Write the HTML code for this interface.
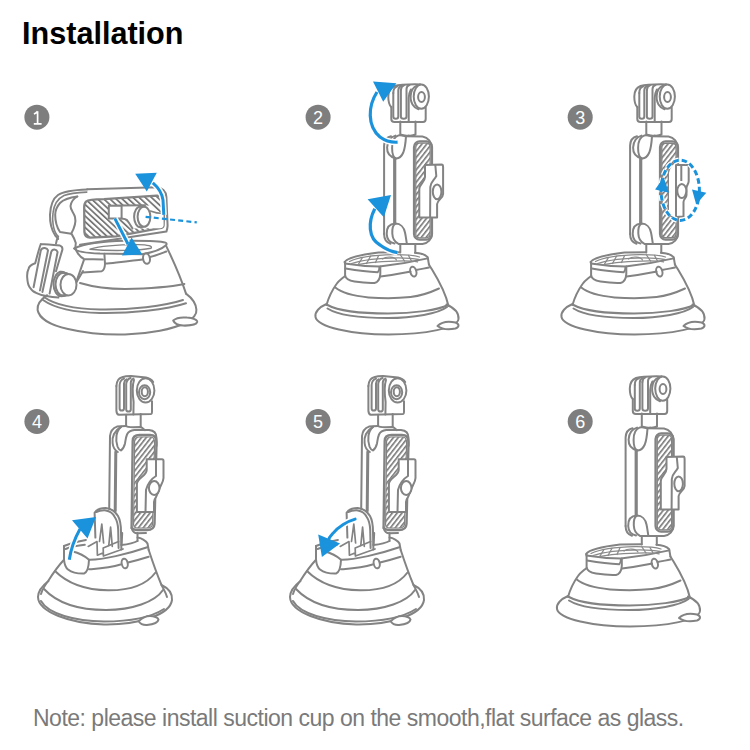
<!DOCTYPE html>
<html><head><meta charset="utf-8">
<style>
html,body{margin:0;padding:0;background:#fff;}
body{width:750px;height:750px;position:relative;overflow:hidden;}
#title{position:absolute;left:22px;top:14.5px;font-family:"Liberation Sans",sans-serif;font-weight:bold;font-size:30.6px;color:#000;line-height:36px;white-space:nowrap;}
#note{position:absolute;left:33px;top:705px;font-family:"Liberation Sans",sans-serif;font-size:23px;color:#7a7a7a;line-height:26px;white-space:nowrap;letter-spacing:-0.5px;}
svg{position:absolute;left:0;top:0;}
</style></head><body>
<div id="title">Installation</div>
<svg width="750" height="750" viewBox="0 0 750 750">
<defs>
<pattern id="hat" patternUnits="userSpaceOnUse" width="3.8" height="20" patternTransform="rotate(38)"><rect x="0" y="0" width="1.6" height="20" fill="#777"/></pattern>
<pattern id="hat1" patternUnits="userSpaceOnUse" width="4.2" height="20" patternTransform="rotate(-47)"><rect x="0" y="0" width="1.8" height="20" fill="#777"/></pattern>

<!-- ===== Mount A (figure 6 coordinates) ===== -->
<g id="mA" fill="none" stroke="#838383" stroke-width="2" stroke-linejoin="round" stroke-linecap="round">
  <!-- skirt -->
  <path d="M568,596 C561,599 556,604 557,609 C559,619 593,626.5 630,626.5 C667,626.5 699,620 700,611 C700.5,605 696,600 688,596.5"/>
  <path d="M569,597 C580,603 605,605.5 629.4,605.5 C655,605.5 680,602 689.4,597"/>
  <path d="M569,600.5 C580,607.5 605,610 629.4,610 C655,610 680,605.5 688.5,599"/>
  <path d="M679,618 C683,614 690,613 697,614.5 C701,616 701,619 697,620.5 C690,622 683,621 679,618 Z" fill="#fff"/>
  <!-- cone -->
  <path d="M586.5,568 C583,571 580,573 578,576 C573,583 570,590 568,597"/>
  <path d="M670.4,556.4 C676,566 686,580 690,598"/>
  <path d="M576.8,579.6 C582,584 595,588 610,589.4 C625,590.5 640,590.3 652,589 C665,587.5 673,584 680.5,580.5"/>
  <!-- platform -->
  <path d="M586,554 C590,549 604,546.5 620,544.6 L641.6,544.2 M656.4,544.8 C660,545 666,546 669.2,549.2 L670.4,556.4"/>
  <path d="M586.4,555.6 C598,557.5 612,558.5 621,558.6 C640,556.5 658,553 669.2,550.4"/>
  <path d="M622,568.4 C636,567 645,565 652,563.6 M657.6,562 C662,561 666,560.5 670.4,559.6"/>
  <ellipse cx="654.8" cy="563.6" rx="3" ry="5" transform="rotate(-15 654.8 563.6)"/>
  <!-- drawer -->
  <path d="M586.6,554 L586.6,567 C587,571 590,572.6 596,573.6 C605,575 612,575.2 616,575 C620,574 621.5,571 621.8,566 L621.8,558.6"/>
  <path d="M587.2,560.6 C598,562.5 610,564 619.2,564.2 C620.5,563 621,561 621,559"/>
  <!-- grille -->
  <g stroke-width="1.3" stroke="#8a8a8a">
  <path d="M591,553.5 C600,549 615,547 635,546.6 C648,546.5 656,547.3 661,549"/>
  <path d="M593,555.5 C605,551.5 620,550 640,549.8 C650,549.8 656,550.5 660,551.5"/>
  <path d="M598,557 C610,554 625,553 645,552.8 C652,552.8 656,553.2 659,553.8"/>
  <path d="M604,549.5 L600,556 M612,548.3 L608,555.5 M620,547.8 L617,554.5 M642,547 L646,553 M650,547.5 L653,553"/>
  <path d="M624,551 C628,548 636,548.5 638,552" stroke-width="1.2"/>
  </g>
  <!-- neck bottom -->
  <path d="M641.8,536 L641.8,544.5 M656.8,536 L656.8,544.8"/>
  <!-- arm -->
  <path d="M646.5,428.2 L664,428.6 C669.5,429.5 673.4,434 673.4,440 L673.4,526 C673.4,531 669.5,535.5 664,536 L640.5,536"/>
  <path d="M625.6,526 L625.6,437.5 C625.8,432.5 628.5,429.2 632.5,428.3"/>
  <path d="M625.6,526 C625.6,531 628,534.5 632,535.8"/>
  <!-- top ball -->
  <path d="M647.5,428.4 C647.2,433 646.6,440 644.8,444.5 C643,448.5 640.5,450.6 637.5,450.4 C634.8,449.5 633.6,445 633.6,440 C633.6,434 635.2,429 640,427.4 C642.5,427.2 645,427.6 647.5,428.4"/>
  <path d="M637,427.6 C632,429 629,433 628.6,439.5 C628.4,445 631,449 637.5,450.4"/>
  <!-- inner rod -->
  <path d="M636.2,450.5 L636.2,514.8" stroke-width="3.2"/>
  <!-- bottom ball -->
  <path d="M636.8,515.6 C642,515.4 645.5,519.5 646.5,524.5 C647.5,529 647.8,533 648.4,535.9 M636.8,515.6 C634.5,517 633.6,521 633.8,525.5 C634,530 636,534 640,535.9"/>
  <path d="M636.8,515.6 C631,516 628,520 628.2,526 C628.4,531 631,534.5 636,535.6"/>
  <!-- neck top -->
  <path d="M641.8,413.4 L641.8,426.5 C644,427.5 647,427.8 650,427.6 M657,413.4 L657,426.5 C655,427.5 652,427.8 650,427.6"/>
  <!-- panel outer -->
  <rect x="655.6" y="433.4" width="17.8" height="98.2" rx="5.5" stroke-width="2.4"/>
  <!-- head -->
  <path d="M632.8,399 L632.8,411 C632.8,413 634,414 636,414 L664.5,414 C666.5,414 667.2,413 667.2,411 L667.2,399.5"/>
  <path d="M632.8,399 C630.5,397 629.8,393 629.8,388.5 C629.8,383 632,379.5 636,378 C641,376.6 650,376.2 661.6,376.4"/>
  <path d="M661.6,376.4 C657,377.5 654,380 652.8,384 C651.8,388 652,393 654,396.5 C655.5,399 657.5,400.5 660,401.2"/>
  <path d="M652.4,381.5 C650.8,384.5 650.2,387.5 650.2,390 L650.2,413.6"/>
  <ellipse cx="662.8" cy="388.6" rx="7.6" ry="12.2" fill="#fff"/>
  <ellipse cx="663" cy="389" rx="3.4" ry="5"/>
  <path d="M634.8,385 L634.8,408.5 C634.8,410 635.8,410.8 637.3,410.8 C638.8,410.8 639.8,410 639.8,408.5 L639.8,382 C640,379.8 641,378.6 643,378"/>
  <path d="M634.8,385 C634.8,381 636.5,378.8 639,378.2"/>
  <path d="M642.4,382 L642.4,408.5 C642.4,410 643.5,410.8 645.2,410.8 C646.9,410.8 648,410 648,408.5 L648,381 C648.2,378.8 649.3,377.5 651,377"/>
  <path d="M642.4,382 C642.6,379.5 643.6,378 645.5,377.4"/>
</g>
<g id="clampA" fill="none" stroke="#838383" stroke-width="2" stroke-linejoin="round">
  <path d="M666.5,457 L683,456.6 C684.3,456.6 684.6,457.5 684.6,459 L684.6,486 C684.6,490 679,492 678.6,496 L678.6,509.5 L660.8,509.5 L660.8,481 C660.8,476 666.5,474 666.5,469 Z" fill="#fff"/>
  <path d="M676.8,457 L677.8,468 C676,472 672,474 671.8,479 L671.6,509.5"/>
  <ellipse cx="678.6" cy="483.8" rx="4.3" ry="7.4"/>
</g>
<g id="hatchA">
  <path d="M657.3,438.5 C657.3,436 659,435.2 661,435.2 L668,435.2 C670.5,435.2 671.6,437 671.6,439.5 L671.6,525.5 C671.6,528 670,529.8 667.5,529.8 L661,529.8 C659,529.8 657.3,528.5 657.3,526 Z" fill="url(#hat)" stroke="#838383" stroke-width="1.2"/>
</g>

<!-- ===== Mount B (figure 4 coordinates) ===== -->
<g id="mB" fill="none" stroke="#838383" stroke-width="2" stroke-linejoin="round" stroke-linecap="round">
  <!-- skirt -->
  <path d="M48.5,581 C42,586 38,591 38,597 C38.5,612 70,623.5 104,624.5 C138,625 170,615 172,600 C172.5,593 168,588 161.5,585"/>
  <path d="M41,601 C48,614 75,621 104,621.5 C130,621.5 150,618 164,609"/>
  <path d="M138.7,621.3 C142,618 146,616 150,616 C154,616 158,617.5 158.5,619.5 C158,622.5 153,624.5 147,625 C143,625.2 140,623.5 138.7,621.3 Z" fill="#fff"/>
  <!-- cone -->
  <path d="M64,559.7 C60,564 55,570 48.5,580.5 C45,585 42.5,589 41,594"/>
  <path d="M148.7,550 C152,560 156,572 161.5,585 C164,590 166,593 167,597"/>
  <path d="M44,589 C58,604 80,610 106,610 C132,610 155,602 163,590"/>
  <path d="M55,571 C68,584 88,590 108,590.3 C130,590.5 147,584 155.5,572.5"/>
  <!-- platform -->
  <path d="M64,546 L64,559.7 C64.5,565 66,568 68,569.5 C72,572.5 78,573.8 84,573.6 C87.5,572 88.8,566 89,559.7"/>
  <path d="M64,546 C70,543.5 77,541.5 85.9,540"/>
  <path d="M65.6,549 C72,546.5 78,545.5 84.8,544.8"/>
  <path d="M72,551.2 C79,553 85,556 89,559.7 C102,560 128,554 147.3,547.3"/>
  <path d="M89,569.3 C100,568.5 110,568 120.5,564.5 M128,562.5 C136,560.5 143,558.5 148.7,556.7"/>
  <ellipse cx="124.7" cy="563.5" rx="3" ry="4.8" transform="rotate(-12 124.7 563.5)"/>
  <path d="M137.5,537.6 C141,538 146,540.5 147.5,543.5 L148.7,550"/>
  <path d="M121.4,545 C126,544.5 133,543.5 137.5,541"/>
  <!-- neck bottom -->
  <path d="M122.2,533 L121.6,545 M137.5,533 L137.5,541"/>
  <!-- lever -->
  <path d="M95.4,537.6 L94.6,512.8 C96,510 100,508.2 105.8,508 C111,508.5 115.5,512 118,516 C120,519.5 121,525 121,532 L121.4,549.6"/>
  <path d="M96.2,512 C99,510.6 102,510.2 105.8,510.4 C110,511 113,513.5 114.6,516.8 C116.8,520 118,524 118.2,530 L118.6,548"/>
  <path d="M99.5,541.5 L101.8,524 L103.6,543 M108.8,545.5 L110.6,527.2 L112.3,546.4" stroke-width="1.7"/>
  <path d="M88.2,546.4 L97,541.6 L97.4,555.2 M103.4,556 L103.2,548 L118.6,541.5 M103.4,556 L123,549 M97.4,555.2 L103.4,552.8" stroke-width="1.7"/>
  <!-- arm -->
  <path d="M109.2,509 L110,436 C110.5,431 113,428 117,426.6 C120,426 123,425.9 126.1,425.9"/>
  <path d="M126.1,425.9 C127,427 129,427.2 133,427.2 L140.7,427 C142,427.5 143.5,429 145,430.1"/>
  <path d="M121,426.9 C118.5,429 117,432 116.5,435.5 C116,439 116.2,443 117.5,446.5 C118.5,449 119.5,450.2 121,450.4 C123,449 124.3,446.5 125,443.5 C125.6,440 125.9,437 127,434.5 C128.2,432 130.5,430.4 134.3,430.1 L149,430.1 C153.5,430.5 156.5,433 156.5,438 L156.5,446"/>
  <path d="M121,426.9 C118,428.5 115.7,431 114,434 C112.6,437 112.3,441 112.6,443 C113,447 114.5,450 117.8,452"/>
  <path d="M131.6,528 C132.5,531.5 134.5,533.3 137.5,533.3 L146,533"/>
  <!-- inner rod -->
  <path d="M115.8,452 L115.2,511" stroke-width="3"/>
  <!-- neck top -->
  <path d="M126.1,414.8 L126.1,425.9 M140.7,414 L140.7,427"/>
  <!-- panel outline -->
  <path d="M131.6,528 L132.7,441 C132.7,437 135.5,435 139.5,435 L150,435 C154,435 156.5,437.5 156.5,442 L154.5,524 C154.3,528 151.5,530 147,530 L137,530 C133.5,530 131.6,529 131.6,526" stroke-width="2.4"/>
  <!-- head -->
  <path d="M116.4,386 L116.4,410.8 C116.6,413 117.5,414.6 119,414.8 L151,414 C151.8,413.8 152,413 152,412 L152,401.2"/>
  <path d="M116.4,386 C116.6,381 119,378 122,377.2 C125,376.2 128,376 131,376 L146,377.5 C149,378 151.5,379.5 153.2,382"/>
  
  <path d="M134,380 C132,386 132.8,396 133.6,402 L133.4,414.4"/>
  <ellipse cx="145.6" cy="390.4" rx="8.8" ry="12.2" fill="#fff"/>
  <ellipse cx="144.6" cy="392.2" rx="5.6" ry="7"/>
  <ellipse cx="144.8" cy="391.8" rx="3.1" ry="4.5"/>
  <path d="M119.6,385 L119.6,408.5 C119.6,409.8 120.7,410.6 121.8,410.6 C123,410.6 124,409.8 124,408.5 L124,383.5 C124.2,381.2 125.2,380 126.5,379.4 M119.6,385 C119.8,381.5 121.5,379.5 124,378.6"/>
  <path d="M126.2,384 L126.2,409.5 C126.2,411 127.3,411.6 128.5,411.6 C129.7,411.6 130.8,411 130.8,409.5 L130.8,382.5 C131,380.5 132,379.2 133.5,378.6 M126.2,384 C126.4,381 128,379 130.5,378"/>
</g>
<g id="clampB" fill="none" stroke="#838383" stroke-width="2" stroke-linejoin="round">
  <path d="M146.7,459.2 L162,459.2 C163,459.2 163.5,460 163.5,461 L163.5,478 C163.5,482 160,486 159,490 L156,497 C154.5,499 154,500 154,502 L154,512 L136.9,512 L136.9,484 C136.9,478 146.7,476 146.7,470 Z" fill="#fff"/>
  <path d="M156,460 L156,476 C151,479 147.5,484 146,490 L145.5,512"/>
  <ellipse cx="154.2" cy="488" rx="5.3" ry="7" fill="#fff"/>
</g>
<g id="hatchB">
  <path d="M134.6,441 C134.6,438.5 136.5,437 139.5,437 L150,437 C153,437 154.6,439 154.6,442 L152.6,523.5 C152.5,526.5 150.5,528 147,528 L137.5,528 C135,528 133.6,527 133.6,524.5 Z" fill="url(#hat)" stroke="#838383" stroke-width="1.2"/>
</g>

<g id="hatchA3">
  <path d="M657.3,438.5 C657.3,436 659,435.2 661,435.2 L668,435.2 C670.5,435.2 671.6,437 671.6,439.5 L671.6,453 C668,456 664.5,459 663.8,465 L663.8,503 C664,507 667,509.5 671.6,510.5 L671.6,525.5 C671.6,528 670,529.8 667.5,529.8 L661,529.8 C659,529.8 657.3,528.5 657.3,526 Z" fill="url(#hat)" stroke="#838383" stroke-width="1.4"/>
</g>
<g id="clampA3" fill="none" stroke="#838383" stroke-width="2" stroke-linejoin="round">
  <path d="M671.5,457 L684.2,457 L684.2,473 C684.2,476 682,477.5 682,480 L682,487 C682,490 679,491 679,494 L679,508.5 L671.5,509 Z" fill="#fff"/>
  <path d="M676.8,457.5 L676.8,473"/>
  <ellipse cx="677.3" cy="483" rx="4.5" ry="7" fill="#fff"/>
</g>
</defs>

<!-- Figure 6 -->
<use href="#hatchA"/>
<use href="#mA"/>
<use href="#clampA"/>
<!-- Figure 2 -->
<g transform="translate(-241.5,-292)"><use href="#hatchA"/><use href="#mA"/><use href="#clampA"/></g>
<!-- Figure 3 -->
<g transform="translate(4.5,-292)"><use href="#hatchA3"/><use href="#mA"/><use href="#clampA3"/></g>


<!-- Figure 4 -->
<use href="#hatchB"/><use href="#mB"/><use href="#clampB"/>
<!-- Figure 5 -->
<g transform="translate(252,0)"><use href="#hatchB"/><use href="#mB"/><use href="#clampB"/></g>

<!-- Figure 1 -->
<g fill="none" stroke="#838383" stroke-width="2" stroke-linejoin="round" stroke-linecap="round">
  <!-- skirt -->
  <path d="M47.2,295.2 C40,300 37,305 37.6,310 C39,318 50,325 68,329 C85,333 105,335 125,334.5 C150,334 173,329 185,323 C193,319 197,314 196.4,309.6 C196,304 192,298 186,293.6"/>
  <path d="M44,297 C55,305 75,309 100,309.5 C130,310 165,306 183,300"/>
  <path d="M43,300 C55,308.5 75,312.5 100,313 C130,313.5 167,309.5 186,303.2"/>
  <path d="M173.2,320.5 C176,318 181,317 187,317.6 C193,318 197.5,320 197.2,322 C196.5,324.5 190,325.8 183,325.6 C178,325.4 174.5,323.5 173.2,320.5 Z" fill="#fff"/>
  <!-- cone -->
  <path d="M166,245.6 C172,258 180,275 186,293.6"/>
  <path d="M80,283 C95,287.5 110,289 125,289 C150,288.5 172,286.5 184.4,284"/>
  <path d="M83,271 C79,278 76,283 75,285"/>
  <!-- platform -->
  <path d="M74,248.5 C85,243.5 105,241.2 125,240.8 C145,240.6 160,241 165.6,242.6 C167,243.2 167,244.5 165.6,245.5 C163,248 155,252 142,254.3 L100,253.6 C85,253 76,251 74,248.5 Z"/>
  <path d="M90,249.2 C100,246 118,244.6 138,244.6 C148,244.8 153,246 151,248.2 C140,250.5 112,251.5 90,249.2 Z" stroke-width="1.4"/>
  <path d="M105,263.6 C120,262 135,260.5 142.5,259.5 M150,257 C156,255.5 161,253.5 166.4,251.5"/>
  <ellipse cx="146.5" cy="258.7" rx="3.4" ry="5.2" transform="rotate(-10 146.5 258.7)" fill="#fff"/>
  <path d="M75.4,248 C76,251 79,256.5 84,259 L102.6,259.6 M104.4,253.8 L105,264 C104.8,268 103.5,270.5 101.8,271.2 L82.6,272.6 M84.2,259.2 L77.8,277.6 L76.4,281.6"/>
  <!-- connector to plate -->
  <path d="M58.2,236.3 C57.2,238.5 56.3,241 56,243.5 M72,234.6 C73.5,237 75,240 75.8,243 L75.4,247"/>
  <!-- plate with prongs -->
  <path d="M40.8,244 C47,244.3 54,245 60,245.6 C61.8,246.2 62.6,247.8 62.4,249.6 L56,271.2 M40.8,244 C38.5,250 37,257 35.2,263.2 C31.5,264.5 29,266 28.5,269 C27,272 27,275 27.2,277.6 C27.5,282 28,285 29.6,287.2 C31.5,290 33.5,292 36,292.8 C39.5,294.5 43,295.6 46.4,296 C50,296.8 54,297.4 58.4,297.6"/>
  <path d="M33.6,287.2 L40.8,250.4 C41.5,248.5 43,247.8 44.8,248 C46.5,248.3 47.6,249.2 48,250.4 L40,290.4"/>
  <path d="M42.4,292 L51.2,252 C52,250 53,249.5 54.4,249.6 C56,249.8 57.2,250.8 57.6,252 L49.6,293.6"/>
  <!-- knob cylinder -->
  <ellipse cx="61.5" cy="284" rx="8" ry="12.2"/>
  <ellipse cx="63.5" cy="284.2" rx="8" ry="11.5"/>
  <path d="M60,271.8 L67.5,273.5 M59,296 L67,295.6" />
  <ellipse cx="68.5" cy="284.7" rx="8" ry="10.7" fill="#fff"/>
  <!-- arm outer left end -->
  <path d="M87.2,189.4 C75,189.8 64,191 58,195 C53,198.5 50.5,205 50,214.7 C49.8,222 51,229 55.2,235.5 L58.2,238.9"/>
  <path d="M86.8,192.1 C78,192.5 70,193 64,195.5 C58,198.5 54,204 53,212.9 C52,220 53,230 57.3,235.5" stroke-width="1.6"/>
  <path d="M77.3,196.5 C70,197.5 64,199 60,203 C56.5,207 55.2,211 55.2,214.7 C55.2,220 56,226 60,232 L71.2,233.7"/>
  <path d="M77.3,196.5 C73,199 71,202 70.5,206 C70.3,210 74,213 75,217 C76,221 75.5,226 71.2,233.7"/>
  <!-- arm top edge and right end -->
  <path d="M87.2,189.2 L156.8,187.2 C162,187.5 166,191 166.4,196.8 L167.6,225.6 C167.5,228.5 166.8,230.5 166.4,231.6 L80,244.8"/>
  
  <!-- panel -->
  <path d="M86,201.6 C88,199.8 95,199.2 104,199.2 L156.8,195.6 C160,195.6 162.8,197 163.5,200 L164,213.6 L163.6,225.5 C163.3,227.2 162.2,228 160,228.2 L116,236.4 L90,237.6 C86.5,237.6 84.6,235.5 84.4,232 L84.2,207.6 C84.2,204.5 85,202.5 86,201.6 Z" fill="url(#hat1)" stroke-width="2.3"/>
  <!-- clamp end face -->
  <path d="M108.8,205.8 L150.4,205.4 C153,208 156,212 163.5,213 L163.6,225.5 C163.3,227.2 162.2,228 160,228.2 L132.5,228.4 C130,224 128.5,221 126.4,219.2 L121.6,218.4 L108.8,218.4 Z" fill="#fff" stroke="none"/>
  <path d="M108.8,205.8 L121.6,205.6 L121.6,218.4 L108.8,218.4 Z"/>
  <path d="M121.6,205.6 L145,205.3"/>
  <path d="M121.6,218.4 C124,218.6 126,219 127,220 C129,222.5 131,226 132.5,228.4"/>
  <path d="M150.4,211 C155,213 160,213.5 163.6,213.5" stroke-width="1.5"/>
  <ellipse cx="140.5" cy="216.8" rx="6.4" ry="10.4" fill="#fff"/>
  <ellipse cx="144" cy="216.8" rx="6.4" ry="10" fill="#fff"/>
</g>

<!-- ===== Blue arrows ===== -->
<g fill="none" stroke-linecap="butt" stroke-linejoin="miter">
  <!-- fig1 -->
  <path d="M152.8,182.8 C159,188 162,193 163,200 L163.8,214.8" stroke="#fff" stroke-width="6"/>
  <path d="M152.8,182.8 C159,188 162,193 163,200 L163.8,214.8" stroke="#1b92dc" stroke-width="3"/>
  <path d="M145.6,216.8 L196.8,222.4" stroke="#1b92dc" stroke-width="2.2" stroke-dasharray="5 3.2"/>
  <path d="M114.8,218.4 L128,244" stroke="#fff" stroke-width="6"/>
  <path d="M114.8,218.4 L128,244" stroke="#1b92dc" stroke-width="3"/>
  <polygon points="135.2,173.8 156.8,172.8 146.8,191.6" fill="#1b92dc"/>
  <polygon points="122,255.6 142.4,254.4 131.6,237.6" fill="#1b92dc"/>
  <!-- fig2 -->
  <path d="M377,92 C368,106 367,126 380,137 C386,141.5 392,142.5 397.6,142.2" stroke="#fff" stroke-width="6"/>
  <path d="M377,92 C368,106 367,126 380,137 C386,141.5 392,142.5 397.6,142.2" stroke="#1b92dc" stroke-width="3.2"/>
  <polygon points="373,81.4 396.4,83.2 383.2,101.8" fill="#1b92dc"/>
  <path d="M374.8,208.8 C368,222 368,238 380,245 C386,249.5 392,251.8 397.6,252.6" stroke="#fff" stroke-width="6"/>
  <path d="M374.8,208.8 C368,222 368,238 380,245 C386,249.5 392,251.8 397.6,252.6" stroke="#1b92dc" stroke-width="3.2"/>
  <polygon points="367.6,199.2 391,195 383.8,217.2" fill="#1b92dc"/>
  <!-- fig3 -->
  <ellipse cx="680.2" cy="190.3" rx="19.2" ry="30.2" stroke="#fff" stroke-width="5.5" stroke-dasharray="5.5 3"/>
  <ellipse cx="680.2" cy="190.3" rx="19.2" ry="30.2" stroke="#1b92dc" stroke-width="3" stroke-dasharray="5.5 3"/>
  <polygon points="655.1,189.5 669,192.7 663.7,177.2" fill="#1b92dc"/>
  <polygon points="692,189.5 706.3,192.7 696.2,204.4" fill="#1b92dc"/>
  <!-- fig4 -->
  <path d="M80,529 C75,538 71,548 69.3,559.7" stroke="#fff" stroke-width="6"/>
  <path d="M80,529 C75,538 71,548 69.3,559.7" stroke="#1b92dc" stroke-width="3"/>
  <polygon points="72,520.3 96,517 87.5,538.4" fill="#1b92dc"/>
  <!-- fig5 -->
  <path d="M355.1,519.1 C348,521 338,527 332.7,533.6 C330,536.5 328.5,539 328,541" stroke="#fff" stroke-width="6"/>
  <path d="M355.1,519.1 C348,521 338,527 332.7,533.6 C330,536.5 328.5,539 328,541" stroke="#1b92dc" stroke-width="3" stroke-linecap="round"/>
  <polygon points="318.2,534.5 340.1,543.4 321.9,556.9" fill="#1b92dc"/>
</g>
<!-- number badges -->
<g font-family="Liberation Sans, sans-serif" font-size="18" fill="#fff" text-anchor="middle">
  <circle cx="36.9" cy="117.2" r="12.5" fill="#7e7e7e"/><path d="M37.6,111.2 L37.6,123.8 M33.8,123.8 L41.6,123.8 M37.6,111.2 C36.5,112.8 35.3,113.6 33.9,114" stroke="#fff" stroke-width="1.7" fill="none"/>
  <circle cx="318.1" cy="117.2" r="12.5" fill="#7e7e7e"/><text x="318.1" y="123.8">2</text>
  <circle cx="580.2" cy="117.2" r="12.5" fill="#7e7e7e"/><text x="580.2" y="123.8">3</text>
  <circle cx="36.9" cy="421.5" r="12.5" fill="#7e7e7e"/><text x="36.9" y="428.1">4</text>
  <circle cx="318.1" cy="421.5" r="12.5" fill="#7e7e7e"/><text x="318.1" y="428.1">5</text>
  <circle cx="580.2" cy="421.5" r="12.5" fill="#7e7e7e"/><text x="580.2" y="428.1">6</text>
</g>
</svg>
<div id="note">Note: please install suction cup on the smooth,flat surface as glass.</div>
</body></html>
